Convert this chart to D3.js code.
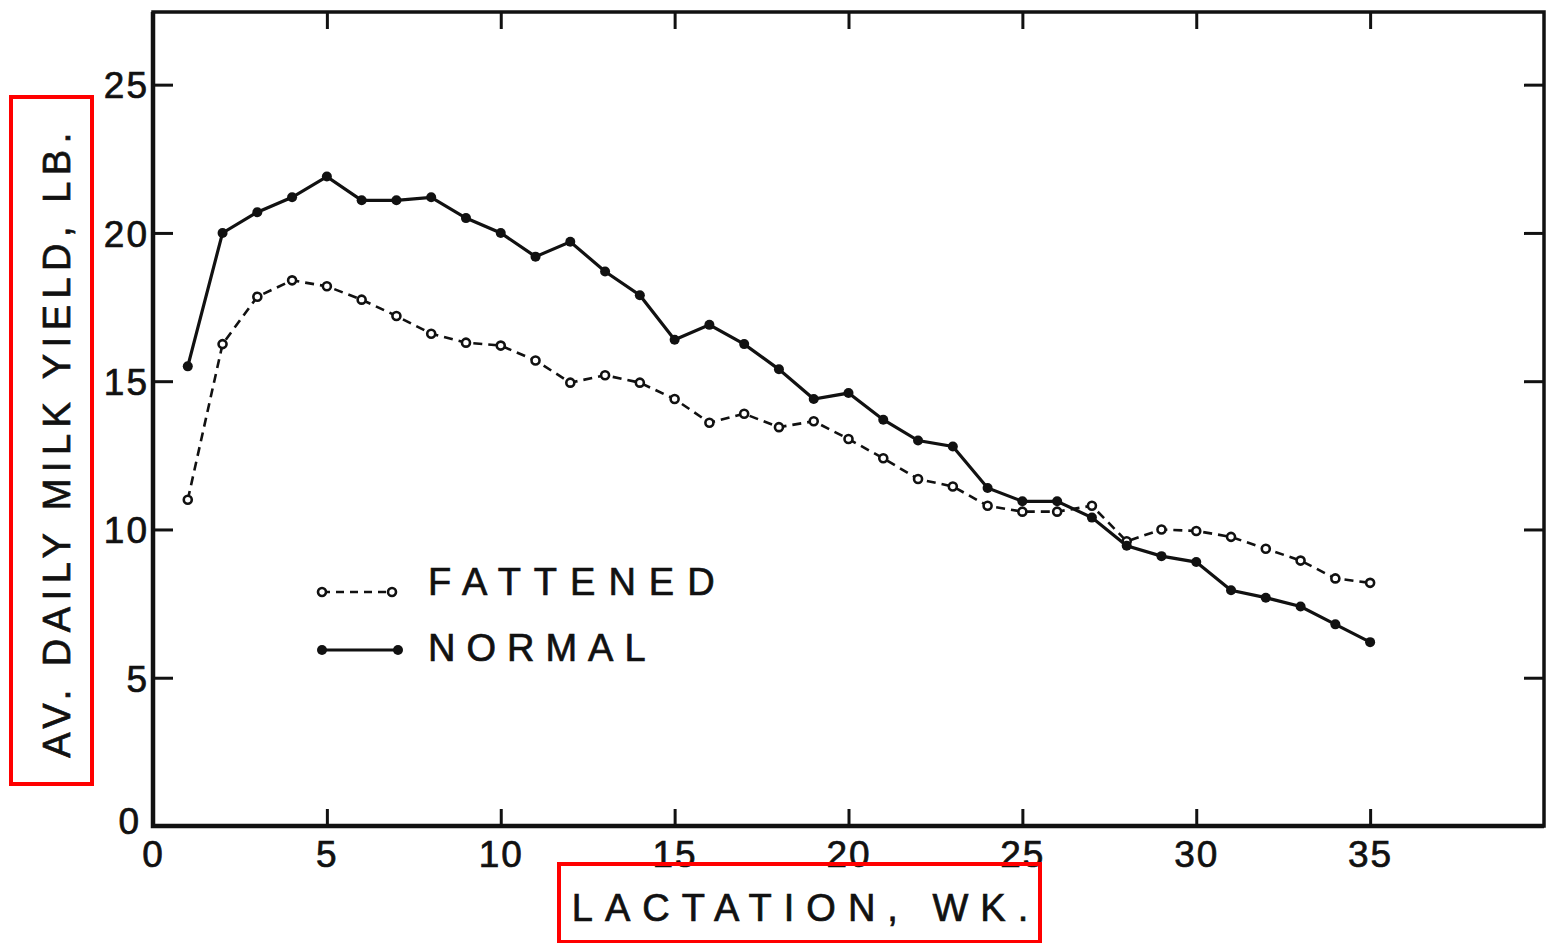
<!DOCTYPE html>
<html>
<head>
<meta charset="utf-8">
<script src="https://cdn.jsdelivr.net/npm/d3@7"></script>
<style>
  body { margin: 0; background: #fff; }
  svg { display: block; }
  text { font-family: "Liberation Sans", Arial, sans-serif; fill: #111; stroke: #111; stroke-width: 0.7px; }
</style>
</head>
<body>
<div id="chart"></div>
<script>
"use strict";

// weeks of lactation
var weeks = d3.range(1, 36);
// av. daily milk yield, lb.
var normal = [15.5, 20.0, 20.7, 21.2, 21.9, 21.1, 21.1, 21.2, 20.5, 20.0,
  19.2, 19.7, 18.7, 17.9, 16.4, 16.9, 16.25, 15.4, 14.4, 14.6,
  13.7, 13.0, 12.8, 11.4, 10.95, 10.95, 10.4, 9.45, 9.1, 8.9,
  7.95, 7.7, 7.4, 6.8, 6.2];
var fattened = [11.0, 16.25, 17.85, 18.4, 18.2, 17.75, 17.2, 16.6, 16.3, 16.2,
  15.7, 14.95, 15.2, 14.95, 14.4, 13.6, 13.9, 13.45, 13.65, 13.05,
  12.4, 11.7, 11.45, 10.8, 10.6, 10.6, 10.8, 9.6, 10.0, 9.95,
  9.75, 9.35, 8.95, 8.35, 8.2];
var xTicks = [0, 5, 10, 15, 20, 25, 30, 35];
var yTicks = [0, 5, 10, 15, 20, 25];

var width = 1547, height = 943;
var margin = {top: 12, right: 3, bottom: 117, left: 153};

var svg = d3.select("#chart").append("svg")
  .attr("width", width).attr("height", height);

var x = d3.scaleLinear().domain([0, 40]).range([margin.left, width - margin.right]);
var y = d3.scaleLinear().domain([0, 27.45]).range([height - margin.bottom, margin.top]);

// frame
svg.append("rect")
  .attr("x", x(0)).attr("y", y(27.45))
  .attr("width", x(40) - x(0)).attr("height", y(0) - y(27.45))
  .attr("fill", "none").attr("stroke", "#111").attr("stroke-width", 3.5);
// the left and bottom edges are drawn heavier
svg.append("path")
  .attr("d", "M" + x(0) + "," + y(27.45) + "V" + y(0) + "H" + x(40))
  .attr("fill", "none").attr("stroke", "#111").attr("stroke-width", 4.5);

// axes, ticks point inward
var bottomAxis = svg.append("g")
  .attr("transform", "translate(0," + y(0) + ")")
  .call(d3.axisBottom(x).tickValues(xTicks).tickSize(-17).tickPadding(15).tickFormat(d3.format("d")));
var topAxis = svg.append("g")
  .attr("transform", "translate(0," + y(27.45) + ")")
  .call(d3.axisTop(x).tickValues(xTicks.slice(1)).tickSize(-17).tickFormat(""));
var leftAxis = svg.append("g")
  .attr("transform", "translate(" + x(0) + ",0)")
  .call(d3.axisLeft(y).tickValues(yTicks).tickSize(-20).tickPadding(4).tickFormat(d3.format("d")));
var rightAxis = svg.append("g")
  .attr("transform", "translate(" + x(40) + ",0)")
  .call(d3.axisRight(y).tickValues(yTicks.slice(1)).tickSize(-20).tickFormat(""));

[bottomAxis, topAxis, leftAxis, rightAxis].forEach(function (g) {
  g.select(".domain").remove();
  g.selectAll(".tick line").attr("stroke", "#111").attr("stroke-width", 3);
  g.selectAll(".tick text")
    .style("font-family", "'Liberation Sans', Arial, sans-serif")
    .style("font-size", "37px").style("letter-spacing", "2px")
    .attr("fill", "#111");
});
leftAxis.selectAll(".tick text").attr("dy", "0.36em");
// keep the two zeros in the corner apart
leftAxis.selectAll(".tick text").filter(function (d) { return d === 0; })
  .attr("x", -12).attr("dy", "0.2em");

// lines
var line = d3.line()
  .x(function (d, i) { return x(weeks[i]); })
  .y(function (d) { return y(d); });

svg.append("path").datum(fattened)
  .attr("d", line).attr("fill", "none")
  .attr("stroke", "#111").attr("stroke-width", 2.6)
  .attr("stroke-dasharray", "9 6");

svg.append("path").datum(normal)
  .attr("d", line).attr("fill", "none")
  .attr("stroke", "#111").attr("stroke-width", 3.2);

svg.append("g").selectAll("circle").data(fattened).enter().append("circle")
  .attr("cx", function (d, i) { return x(weeks[i]); })
  .attr("cy", function (d) { return y(d); })
  .attr("r", 4).attr("fill", "#fff")
  .attr("stroke", "#111").attr("stroke-width", 2.6);

svg.append("g").selectAll("circle").data(normal).enter().append("circle")
  .attr("cx", function (d, i) { return x(weeks[i]); })
  .attr("cy", function (d) { return y(d); })
  .attr("r", 5).attr("fill", "#111");

// legend
var legend = svg.append("g").attr("transform", "translate(322,592)");
legend.append("line").attr("x1", 0).attr("x2", 70).attr("y1", 0).attr("y2", 0)
  .attr("stroke", "#111").attr("stroke-width", 2.6).attr("stroke-dasharray", "8 6");
legend.append("circle").attr("cx", 0).attr("cy", 0).attr("r", 4)
  .attr("fill", "#fff").attr("stroke", "#111").attr("stroke-width", 2.6);
legend.append("circle").attr("cx", 70).attr("cy", 0).attr("r", 4)
  .attr("fill", "#fff").attr("stroke", "#111").attr("stroke-width", 2.6);
legend.append("text").attr("x", 106).attr("y", -11).attr("dy", "0.36em")
  .style("font-size", "38px").style("letter-spacing", "13px").text("FATTENED");

legend.append("line").attr("x1", 0).attr("x2", 76).attr("y1", 58).attr("y2", 58)
  .attr("stroke", "#111").attr("stroke-width", 3.2);
legend.append("circle").attr("cx", 0).attr("cy", 58).attr("r", 5).attr("fill", "#111");
legend.append("circle").attr("cx", 76).attr("cy", 58).attr("r", 5).attr("fill", "#111");
legend.append("text").attr("x", 106).attr("y", 55).attr("dy", "0.36em")
  .style("font-size", "38px").style("letter-spacing", "11px").text("NORMAL");

// axis titles
svg.append("text")
  .attr("transform", "translate(56,442) rotate(-90)")
  .attr("text-anchor", "middle").attr("dy", "0.36em")
  .style("font-size", "38px").style("letter-spacing", "6.5px")
  .text("AV. DAILY MILK YIELD, LB.");

svg.append("text")
  .attr("x", 806).attr("y", 907).attr("dy", "0.36em")
  .attr("text-anchor", "middle")
  .style("font-size", "38px").style("letter-spacing", "12px")
  .text("LACTATION, WK.");

// red highlight boxes around the axis titles
svg.append("rect").attr("x", 11).attr("y", 97).attr("width", 81).attr("height", 687)
  .attr("fill", "none").attr("stroke", "#ff0000").attr("stroke-width", 4);
svg.append("rect").attr("x", 559).attr("y", 864).attr("width", 481).attr("height", 78)
  .attr("fill", "none").attr("stroke", "#ff0000").attr("stroke-width", 4);
</script>
</body>
</html>
